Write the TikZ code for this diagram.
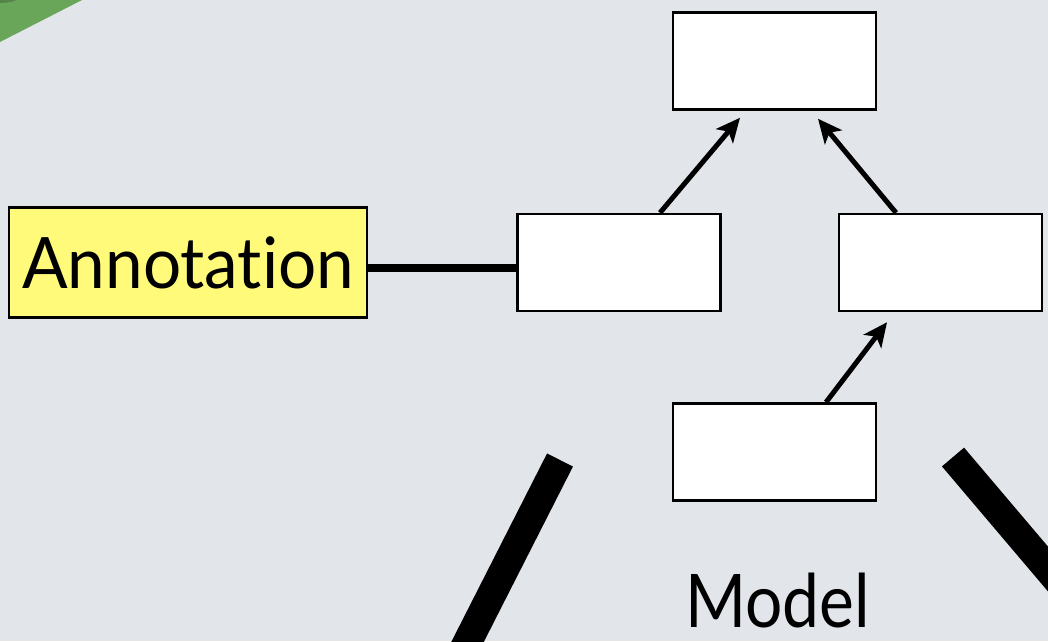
\documentclass[tikz,border=0pt]{standalone}
\usepackage{fontspec}
\setmainfont{Lato}[Ligatures={NoCommon,NoRequired,NoContextual}]
\usetikzlibrary{arrows.meta,calc}
\definecolor{bg}{RGB}{226,229,233}
\definecolor{leaf}{RGB}{106,166,90}
\definecolor{notecol}{RGB}{255,250,122}
\tikzset{
  classbox/.style={draw=black, line width=2.5pt, fill=white, minimum width=203pt, minimum height=97pt, inner sep=0pt},
  notebox/.style={draw=black, line width=2.5pt, fill=notecol, minimum width=358pt, minimum height=110pt, inner sep=0pt},
  label/.style={inner sep=0pt, text=black},
  link/.style={line width=8pt},
  dep/.style={line width=5pt, -{Stealth[length=24pt, width=22pt, inset=6pt]}},
  bar/.style={line width=29pt, line cap=butt},
}
\begin{document}
\begin{tikzpicture}[x=1pt, y=-1pt]
  \useasboundingbox (0,0) rectangle (1048,641);
  \fill[bg] (0,0) rectangle (1048,641);
  \begin{scope}
    \clip (0,0) rectangle (1048,641);
    % corner of the neighbouring panel
    \fill[leaf] (0,0) -- (82,0) -- (0,42) -- cycle;
    \fill[black, opacity=0.2] (0,-4) ellipse (20pt and 7pt);
    % edges leaving the package
    \coordinate (la) at (560,460);
    \coordinate (lb) at (468,641);
    \draw[bar] (la) -- ($(la)!1.2!(lb)$);
    \coordinate (ra) at (953,457);
    \coordinate (rb) at (1048,569);
    \draw[bar] (ra) -- ($(ra)!1.5!(rb)$);
  \end{scope}

  \node[classbox] (top)   at (774.5,61)   {};
  \node[classbox] (left)  at (619,262.5)  {};
  \node[classbox] (right) at (940.5,262.5){};
  \node[classbox] (base)  at (774.5,452)  {};
  \node[notebox]  (note)  at (188,262.5)  {};
  \node[label, anchor=base west, xscale=0.95, font=\fontsize{71}{71}\selectfont] (notetext) at (22,288) {Annotation};
  \node[label, anchor=base, xscale=0.89, font=\fontsize{74}{74}\selectfont] (model) at (777.5,627) {Model};

  \draw[link] ([yshift=-5pt]note.east) -- ([yshift=-5pt]left.west);
  \draw[dep] ([xshift=41pt]left.north) -- ([xshift=-34.5pt,yshift=-7pt]top.south);
  \draw[dep] ([xshift=-44.5pt]right.north) -- ([xshift=43.5pt,yshift=-8pt]top.south);
  \draw[dep] ([xshift=51.5pt]base.north) -- ([xshift=-53.5pt,yshift=-10pt]right.south);
\end{tikzpicture}
\end{document}
